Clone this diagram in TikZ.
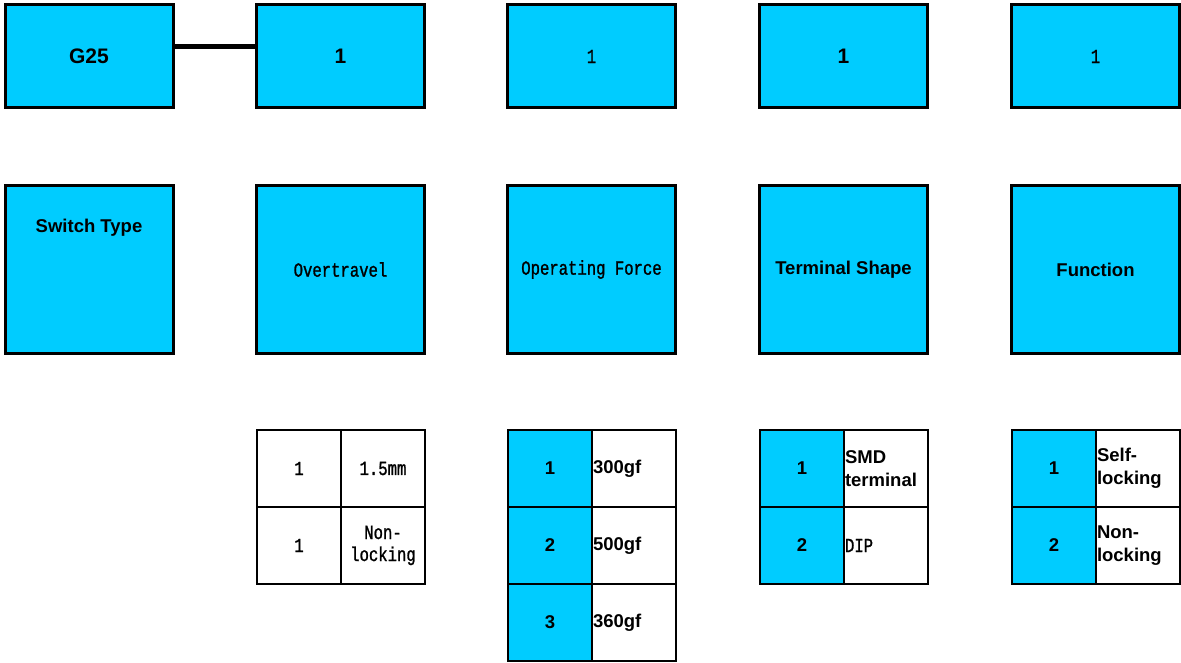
\documentclass[tikz,border=0pt]{standalone}
\usepackage{fontspec}
\setmainfont{Liberation Sans}
\newfontfamily\monofnt[FakeStretch=0.78, FakeBold=1.2]{Liberation Mono}
\definecolor{boxcyan}{HTML}{00CCFF}
\begin{document}
\begin{tikzpicture}[x=1pt,y=-1pt,
  box/.style={draw=black, line width=3pt, fill=boxcyan, inner sep=0pt, outer sep=0pt, minimum width=168pt, align=center},
  topbox/.style={box, minimum height=103pt},
  midbox/.style={box, minimum height=167pt},
  cell/.style={draw=black, line width=2.5pt, inner sep=0pt, outer sep=0pt, minimum width=84pt, minimum height=77pt, align=center},
  cyancell/.style={cell, fill=boxcyan},
  whitecell/.style={cell, fill=white},
  lcell/.style={whitecell, text width=82pt, align=left, inner xsep=1pt},
  bf/.style={font=\fontsize{18.5}{23}\selectfont\bfseries},
  bfl/.style={font=\fontsize{21}{25}\selectfont\bfseries},
  mn/.style={font=\fontsize{20}{22}\selectfont\monofnt},
]
\useasboundingbox (0,0) rectangle (1181,663);
% top row
\node[topbox, bfl] (g25) at (89,56.5) {G25};
\node[topbox, bfl] (t1) at (340.5,56.5) {1};
\node[topbox, mn] (t2) at (591.5,56.5) {1};
\node[topbox, bfl] (t3) at (843.5,56.5) {1};
\node[topbox, mn] (t4) at (1095.5,56.5) {1};
\draw[line width=5pt] ([yshift=10pt]g25.east) -- ([yshift=10pt]t1.west);
% middle row
\node[midbox, label={[bf, anchor=center, yshift=-42pt]north:Switch Type}] (m0) at (89,269.5) {};
\node[midbox, mn] (m1) at (340.5,269.5) {Overtravel};
\node[midbox, mn] (m2) at (591.5,269.5) {Operating Force};
\node[midbox, bf] (m3) at (843.5,269.5) {Terminal Shape};
\node[midbox, bf] (m4) at (1095.5,269.5) {Function};
% overtravel table
\node[whitecell, mn] (a11) at (299,468.5) {1};
\node[whitecell, mn] (a12) at (383,468.5) {1.5mm};
\node[whitecell, mn] (a21) at (299,545.5) {1};
\node[whitecell, mn] (a22) at (383,545.5) {Non-\\locking};
% operating force table
\node[cyancell, bf] (b11) at (550,468.5) {1};
\node[lcell, bf] (b12) at (634,468.5) {300gf};
\node[cyancell, bf] (b21) at (550,545.5) {2};
\node[lcell, bf] (b22) at (634,545.5) {500gf};
\node[cyancell, bf] (b31) at (550,622.5) {3};
\node[lcell, bf] (b32) at (634,622.5) {360gf};
% terminal shape table
\node[cyancell, bf] (c11) at (802,468.5) {1};
\node[lcell, bf] (c12) at (886,468.5) {SMD\\terminal};
\node[cyancell, bf] (c21) at (802,545.5) {2};
\node[lcell, mn] (c22) at (886,545.5) {DIP};
% function table
\node[cyancell, bf] (d11) at (1054,468.5) {1};
\node[lcell, bf] (d12) at (1138,468.5) {Self-\\locking};
\node[cyancell, bf] (d21) at (1054,545.5) {2};
\node[lcell, bf] (d22) at (1138,545.5) {Non-\\locking};
\end{tikzpicture}
\end{document}
